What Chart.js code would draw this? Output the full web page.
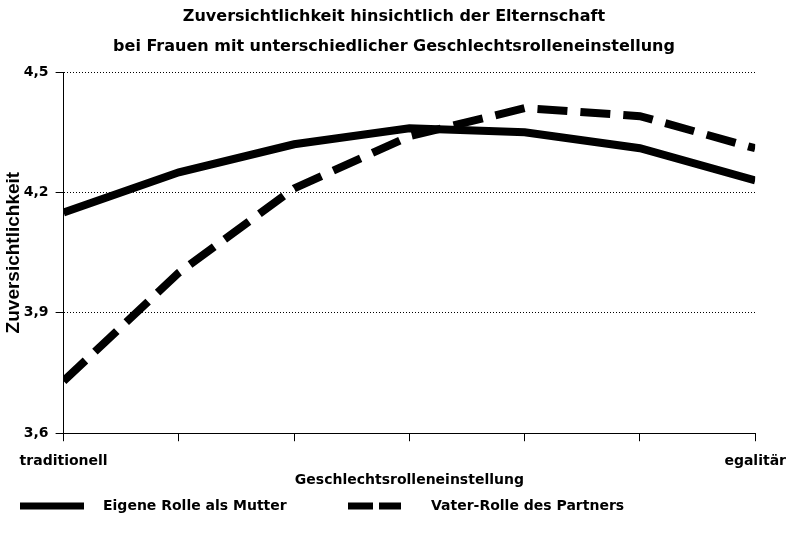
<!DOCTYPE html>
<html>
<head>
<meta charset="utf-8">
<script src="https://cdn.jsdelivr.net/npm/chart.js@4/dist/chart.umd.min.js"></script>
<style>
  html, body { margin: 0; padding: 0; background: #fff; }
  #wrap { width: 788px; height: 541px; }
</style>
</head>
<body>
<div id="wrap"><canvas id="elternChart"></canvas></div>
<script>
// Werte
const categories = ['traditionell', '', '', '', '', '', 'egalitär'];
const eigeneRolle = [4.15, 4.25, 4.32, 4.36, 4.35, 4.31, 4.23];
const vaterRolle = [3.73, 4.00, 4.21, 4.34, 4.41, 4.39, 4.31];
const yTickValues = [3.6, 3.9, 4.2, 4.5];
const seriesNames = ['Eigene Rolle als Mutter', 'Vater-Rolle des Partners'];

const FONT = '"DejaVu Sans", sans-serif';
const FONT_NARROW = '"Liberation Sans", Arial, sans-serif';

// simple legend drawn under the chart (line swatches like the original)
const bottomLegend = {
    id: 'bottomLegend',
    afterDraw(chart) {
        const ctx = chart.ctx;
        const y = 506;
        ctx.save();
        ctx.font = 'bold 14px ' + FONT;
        ctx.fillStyle = '#000';
        ctx.textBaseline = 'middle';
        ctx.strokeStyle = '#000';
        ctx.lineWidth = 7;
        ctx.lineCap = 'butt';

        ctx.setLineDash([]);
        ctx.beginPath();
        ctx.moveTo(20, y);
        ctx.lineTo(84, y);
        ctx.stroke();
        ctx.fillText(chart.data.datasets[0].label, 103, y);

        ctx.setLineDash([25, 6]);
        ctx.beginPath();
        ctx.moveTo(348, y);
        ctx.lineTo(401, y);
        ctx.stroke();
        ctx.fillText(chart.data.datasets[1].label, 431, y);
        ctx.restore();
    }
};

const ctx = document.getElementById('elternChart');

new Chart(ctx, {
    type: 'line',
    data: {
        labels: categories,
        datasets: [{
            label: seriesNames[0],
            data: eigeneRolle,
            borderColor: '#000',
            borderWidth: 8,
            pointRadius: 0,
            tension: 0,
            clip: 0
        }, {
            label: seriesNames[1],
            data: vaterRolle,
            borderColor: '#000',
            borderWidth: 8,
            borderDash: [30, 13],
            pointRadius: 0,
            tension: 0,
            clip: 0
        }]
    },
    options: {
        responsive: true,
        maintainAspectRatio: false,
        animation: false,
        layout: {
            padding: { left: 0, right: 0, top: 0, bottom: 48 }
        },
        plugins: {
            legend: { display: false },
            tooltip: { enabled: false },
            title: {
                display: true,
                text: ['Zuversichtlichkeit hinsichtlich der Elternschaft',
                       'bei Frauen mit unterschiedlicher Geschlechtsrolleneinstellung'],
                color: '#000',
                font: { family: FONT, size: 16, weight: 'bold', lineHeight: 1.875 },
                padding: { top: 2, bottom: 10 }
            }
        },
        scales: {
            x: {
                offset: false,
                grid: {
                    drawOnChartArea: false,
                    color: '#000',
                    tickLength: 8
                },
                border: { color: '#000', width: 1 },
                ticks: {
                    color: '#000',
                    autoSkip: false,
                    maxRotation: 0,
                    padding: 2,
                    // tall line box pushes the labels down below the tick marks
                    font: { family: FONT, size: 14, weight: 'bold', lineHeight: 2.57 }
                },
                title: {
                    display: true,
                    text: 'Geschlechtsrolleneinstellung',
                    color: '#000',
                    font: { family: FONT, size: 14, weight: 'bold' },
                    padding: { top: -9, bottom: 4 }
                }
            },
            y: {
                min: 3.6,
                max: 4.5,
                afterBuildTicks: (axis) => {
                    axis.ticks = yTickValues.map(v => ({ value: v }));
                },
                grid: {
                    color: '#000',
                    lineWidth: 1,
                    tickLength: 8
                },
                border: { color: '#000', width: 1, dash: [1, 2] },
                ticks: {
                    color: '#000',
                    padding: 7,
                    font: { family: FONT, size: 14, weight: 'bold' },
                    callback: (value) => Number(value).toFixed(1).replace('.', ',')
                },
                title: {
                    display: true,
                    text: 'Zuversichtlichkeit',
                    color: '#000',
                    font: { family: FONT_NARROW, size: 19, weight: 'bold' },
                    padding: { top: 2, bottom: -8 }
                }
            }
        }
    },
    plugins: [bottomLegend]
});
</script>
</body>
</html>
